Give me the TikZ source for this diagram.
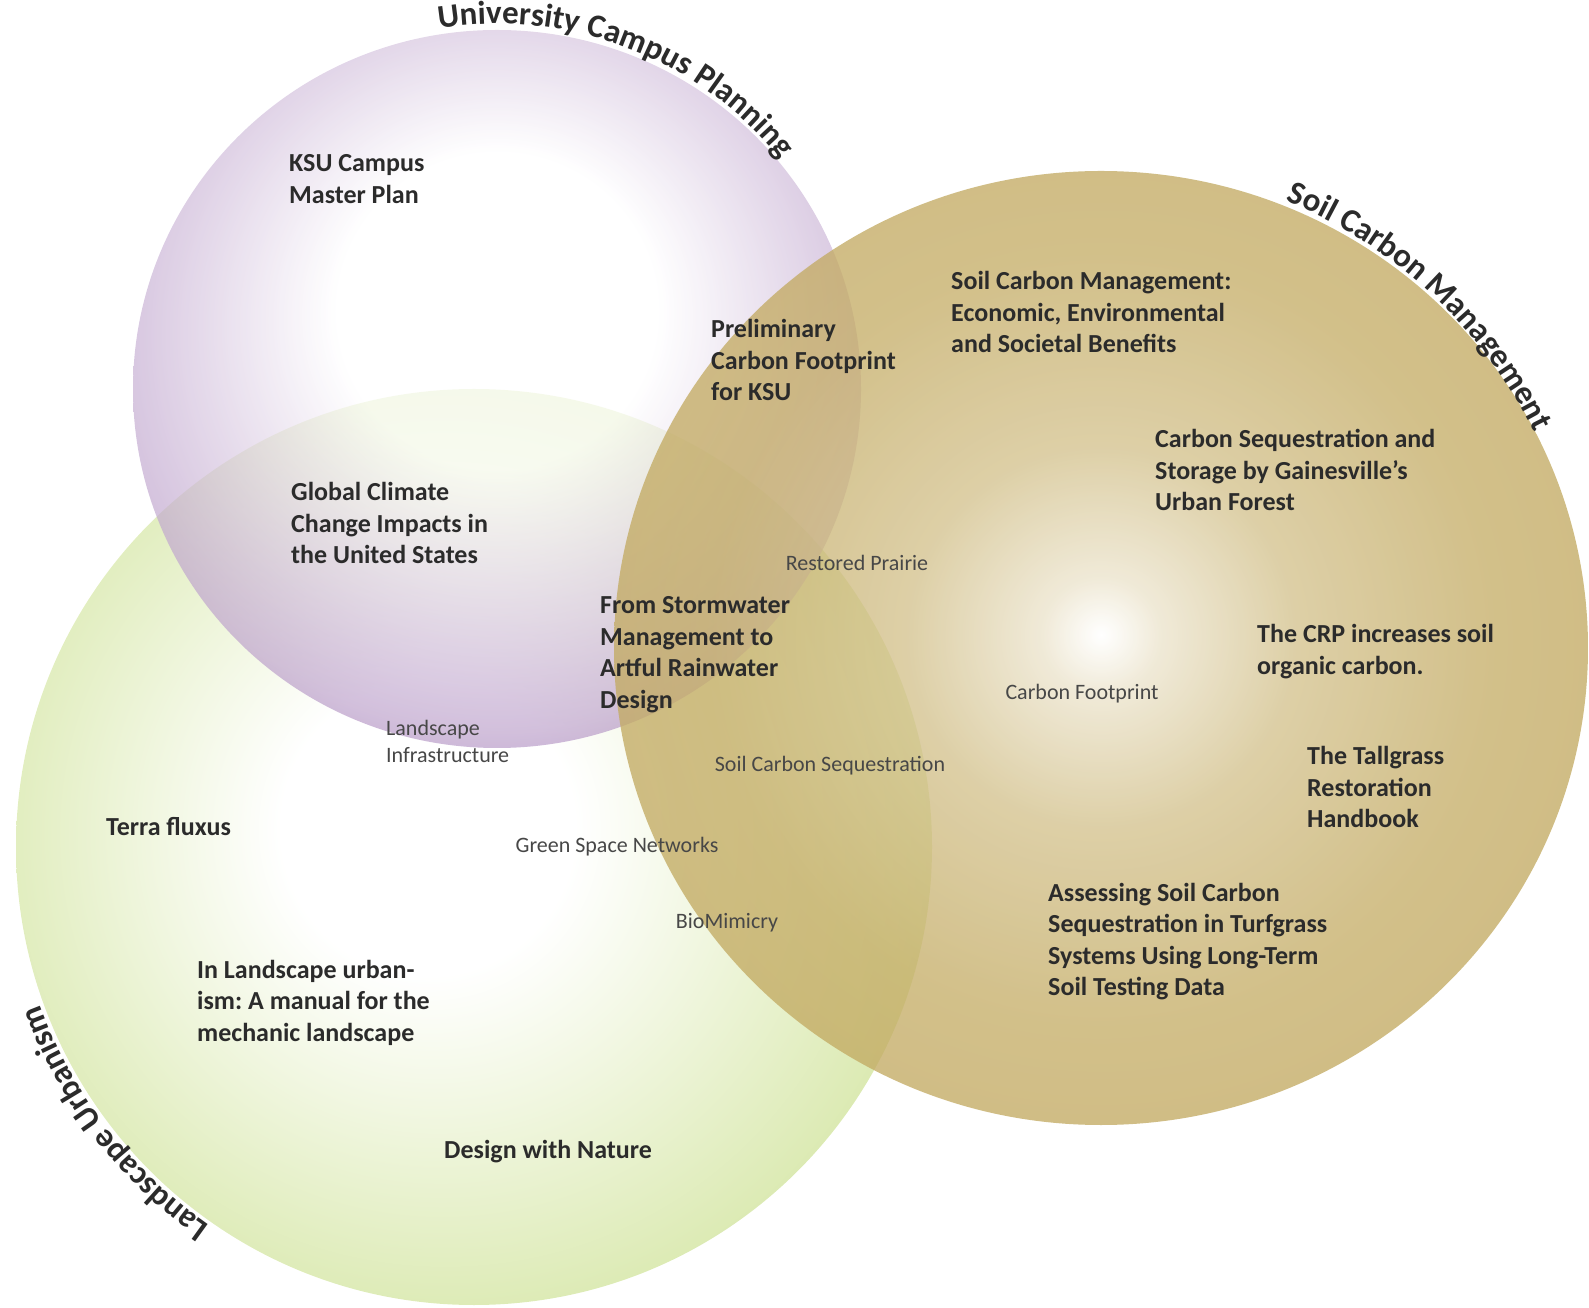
\documentclass[tikz,border=0pt]{standalone}
\usepackage{fontspec}
\setmainfont{Carlito}
\usetikzlibrary{decorations.text}
\definecolor{campuspurple}{RGB}{140,92,165}
\definecolor{urbangreen}{RGB}{196,220,128}
\definecolor{soilgold}{RGB}{191,165,88}
\definecolor{inkgray}{HTML}{2B2B2B}
\definecolor{softgray}{HTML}{474747}
\pgfdeclareradialshading{purpleglow}{\pgfpoint{0bp}{7bp}}{color(0bp)=(white); color(11bp)=(white); color(27bp)=(campuspurple!55!white); color(35.4bp)=(campuspurple); color(50bp)=(campuspurple)}
\pgfdeclareradialshading{greenglow}{\pgfpoint{-3bp}{1.2bp}}{color(0bp)=(white); color(8bp)=(white); color(26bp)=(urbangreen!58!white); color(35.4bp)=(urbangreen); color(50bp)=(urbangreen)}
\pgfdeclareradialshading{goldglow}{\pgfpoint{0bp}{0.7bp}}{color(0bp)=(white); color(3bp)=(soilgold!30!white); color(10bp)=(soilgold!68!white); color(20bp)=(soilgold!90!white); color(35.4bp)=(soilgold); color(50bp)=(soilgold)}
\newcommand{\arctitle}{\bfseries\fontsize{33}{40}\selectfont\color{inkgray}}
\frenchspacing

\begin{document}
\begin{tikzpicture}[x=1pt, y=1pt,
    topic/.style={font=\bfseries\fontsize{26}{31.5}\selectfont, text=inkgray, align=left, anchor=base west, inner sep=0pt},
    keyword/.style={font=\fontsize{22}{26.5}\selectfont, text=softgray, anchor=base, inner sep=0pt},
    arclabel/.style={decorate, decoration={text along path, text align=center, text={|\arctitle|#1}}}]
  \useasboundingbox (0,0) rectangle (1589,1307);
  \coordinate (green) at (474,460);
  \coordinate (purple) at (497,918);
  \coordinate (gold) at (1101,659);

  \shade[shading=greenglow] (green) circle[radius=458];
  \shade[shading=purpleglow, opacity=0.7] (purple) ellipse[x radius=364, y radius=359];
  \shade[shading=goldglow, opacity=0.78] (gold) ellipse[x radius=487, y radius=477];

  \path[arclabel=University Campus Planning] (purple) ++(114.1:365) arc[start angle=114.1, end angle=24.1, radius=365];
  \path[arclabel=Soil Carbon Management] (gold) ++(80:484) arc[start angle=80, end angle=14, radius=484];
  \path[arclabel=Landscape Urbanism] (green) ++(252.5:462) arc[start angle=252.5, end angle=182.5, radius=462];

  \node[topic] (ksuplan) at (289,1103.5) {KSU Campus\\Master Plan};
  \node[topic] (prelimfoot) at (711,906) {Preliminary\\Carbon Footprint\\for KSU};
  \node[topic] (soilbenefits) at (951,954) {Soil Carbon Management:\\Economic, Environmental\\and Societal Benefits};
  \node[topic] (gainesville) at (1155,796) {Carbon Sequestration and\\Storage by Gainesville's\\Urban Forest};
  \node[topic] (climate) at (291,743) {Global Climate\\Change Impacts in\\the United States};
  \node[topic] (stormwater) at (600,598.5) {From Stormwater\\Management to\\Artful Rainwater\\Design};
  \node[topic] (crp) at (1257,632.5) {The CRP increases soil\\organic carbon.};
  \node[topic] (tallgrass) at (1307,479) {The Tallgrass\\Restoration\\Handbook};
  \node[topic] (terra) at (106,471) {Terra fluxus};
  \node[topic] (turfgrass) at (1048,311.5) {Assessing Soil Carbon\\Sequestration in Turfgrass\\Systems Using Long-Term\\Soil Testing Data};
  \node[topic] (manual) at (197,266) {In Landscape urban-\\ism: A manual for the\\mechanic landscape};
  \node[topic] (mcharg) at (444,149) {Design with Nature};

  \node[keyword] (prairie) at (857,736) {Restored Prairie};
  \node[keyword] (footprint) at (1082,607) {Carbon Footprint};
  \node[keyword, align=left, anchor=base west] (infra) at (386,544.5) {Landscape\\Infrastructure};
  \node[keyword] (sequest) at (830,535) {Soil Carbon Sequestration};
  \node[keyword] (greenspace) at (617,454) {Green Space Networks};
  \node[keyword] (biomimicry) at (727,379) {BioMimicry};
\end{tikzpicture}
\end{document}
